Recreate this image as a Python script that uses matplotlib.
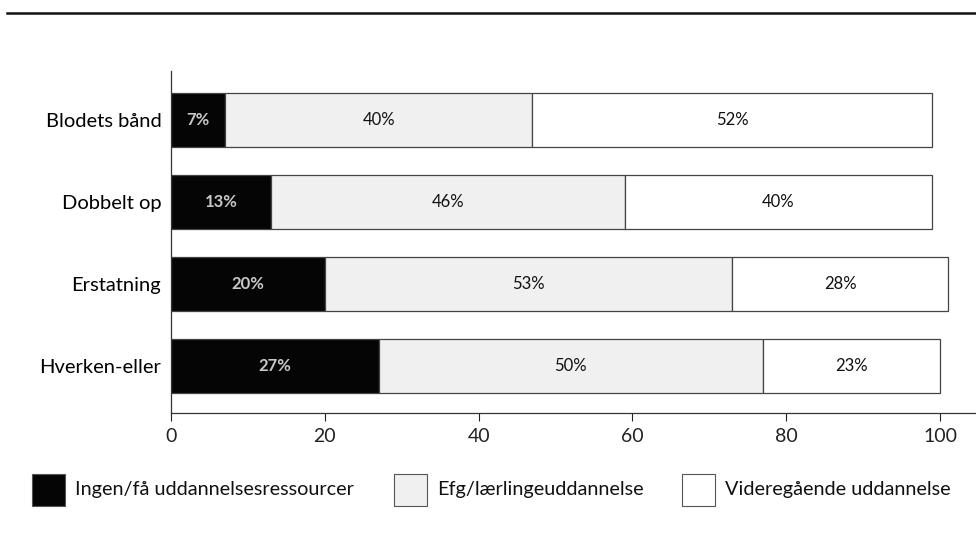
import matplotlib
matplotlib.use('Agg')
import matplotlib.pyplot as plt
from matplotlib.patches import Rectangle
from matplotlib.lines import Line2D

plt.rcParams['font.family'] = ['Lato', 'DejaVu Sans']

categories = ['Blodets bånd', 'Dobbelt op', 'Erstatning', 'Hverken-eller']
ingen = [7, 13, 20, 27]
efg = [40, 46, 53, 50]
videre = [52, 40, 28, 23]
series_names = ['Ingen/få uddannelsesressourcer', 'Efg/lærlingeuddannelse',
                'Videregående uddannelse']
xticks = [0, 20, 40, 60, 80, 100]

W, H = 976, 544
fig = plt.figure(figsize=(W / 100, H / 100), dpi=100)
ax = fig.add_axes([171 / W, 1 - 413 / H, 1 - 171 / W, (413 - 71) / H])

face = ['#050505', '#f0f0f0', 'white']
txtc = ['#c8c8c8', '#111111', '#111111']
edge = '#444444'

y = list(range(len(categories)))
left = [0] * len(categories)
for vals, fc, tc in zip([ingen, efg, videre], face, txtc):
    bars = ax.barh(y, vals, left=left, height=0.66, color=fc,
                   edgecolor=edge, linewidth=0.9)
    for b, v in zip(bars, vals):
        ax.text(b.get_x() + b.get_width() / 2, b.get_y() + b.get_height() / 2,
                f'{v}%', ha='center', va='center', fontsize=12, color=tc,
                fontweight='bold' if fc == '#050505' else 'normal')
    left = [l + v for l, v in zip(left, vals)]

ax.set_xlim(0, (W - 171) / 7.69)
ax.set_ylim(3.576, -0.605)
ax.set_yticks(y)
ax.set_yticklabels(categories, fontsize=14.5)
ax.tick_params(axis='y', length=0, pad=7)
ax.set_xticks(xticks)
ax.set_xticklabels([str(t) for t in xticks], fontsize=14)
ax.tick_params(axis='x', length=6, width=0.8, direction='out', pad=5, colors='#222222')
for s in ['top', 'right']:
    ax.spines[s].set_visible(False)
for s in ['left', 'bottom']:
    ax.spines[s].set_color('#333333')
    ax.spines[s].set_linewidth(0.9)

# top rule
fig.add_artist(Line2D([7 / W, 1], [1 - 13 / H, 1 - 13 / H], color='#111111',
                      linewidth=1.8, transform=fig.transFigure))

# legend
box_x = [32, 394, 682]
for bx, fc, name in zip(box_x, face, series_names):
    fig.add_artist(Rectangle((bx / W, 1 - 506 / H), 33 / W, 32 / H,
                             facecolor=fc, edgecolor='#555555', linewidth=0.8,
                             transform=fig.transFigure))
    fig.text((bx + 43) / W, 1 - 490 / H, name, ha='left', va='center',
             fontsize=14.3, color='#111111')

fig.savefig('out.png', dpi=100)
